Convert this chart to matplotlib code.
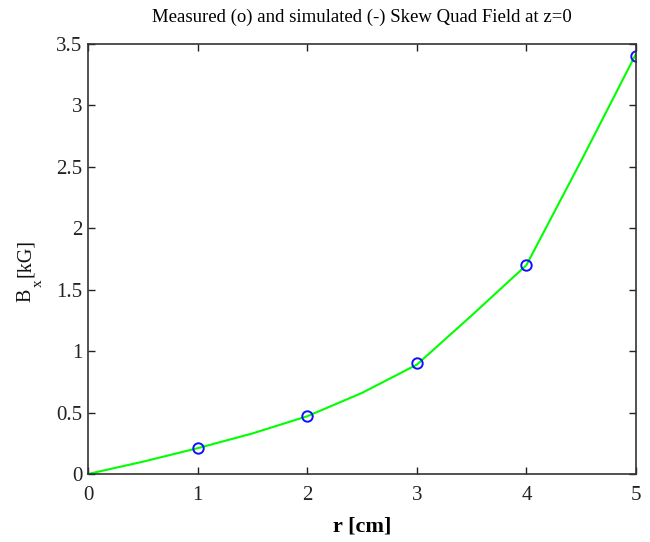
import matplotlib
matplotlib.use("Agg")
import matplotlib.pyplot as plt

# measured data
r_meas = [1, 2, 3, 4, 5]
b_meas = [0.21, 0.47, 0.90, 1.70, 3.40]

# simulated curve
r_sim = [0, 0.5, 1, 1.5, 2, 2.5, 3, 3.5, 4, 4.5, 5]
b_sim = [0.0, 0.10, 0.21, 0.33, 0.47, 0.66, 0.89, 1.29, 1.70, 2.55, 3.42]

plt.rcParams['font.family'] = ['Liberation Serif', 'DejaVu Serif']

W, H = 650, 542
fig = plt.figure(figsize=(6.5, 5.42), dpi=100)
ax = fig.add_axes([88/W, 68/H, 548/W, 430/H])

ax.plot(r_sim, b_sim, color=(0, 1, 0), lw=1.5)
ax.plot(r_meas, b_meas, 'o', mfc='none', mec='#1010ff', mew=1.4, ms=7.5)

ax.set_xlim(0, 5)
ax.set_ylim(0, 3.5)
ax.set_xticks([0, 1, 2, 3, 4, 5])
ax.set_yticks([0, 0.5, 1, 1.5, 2, 2.5, 3, 3.5])
ax.set_yticklabels(['0', '0.5', '1', '1.5', '2', '2.5', '3', '3.5'])
ax.tick_params(direction='in', top=True, right=True, length=5, width=1,
               labelsize=15, colors='#222222')
ax.tick_params(axis='x', pad=9)
ax.tick_params(axis='y', pad=4)
for s in ax.spines.values():
    s.set_linewidth(1.2)
    s.set_color('#333333')

ax.set_title('Measured (o) and simulated (-) Skew Quad Field at z=0', fontsize=13.5, pad=16)
ax.set_xlabel('r [cm]', fontsize=16, fontweight='bold', labelpad=8)

# y label in MATLAB style: B with a strongly lowered subscript x
def px(x, y):
    return x / W, (H - y) / H

fig.text(*px(30, 302), 'B', rotation=90, rotation_mode='anchor',
         ha='left', va='baseline', fontsize=14.5, color='#111111')
fig.text(*px(42, 287), 'x', rotation=90, rotation_mode='anchor',
         ha='left', va='baseline', fontsize=11, color='#111111')
fig.text(*px(30, 277), '[kG]', rotation=90, rotation_mode='anchor',
         ha='left', va='baseline', fontsize=14.5, color='#111111')

fig.savefig('out.png', dpi=100)
